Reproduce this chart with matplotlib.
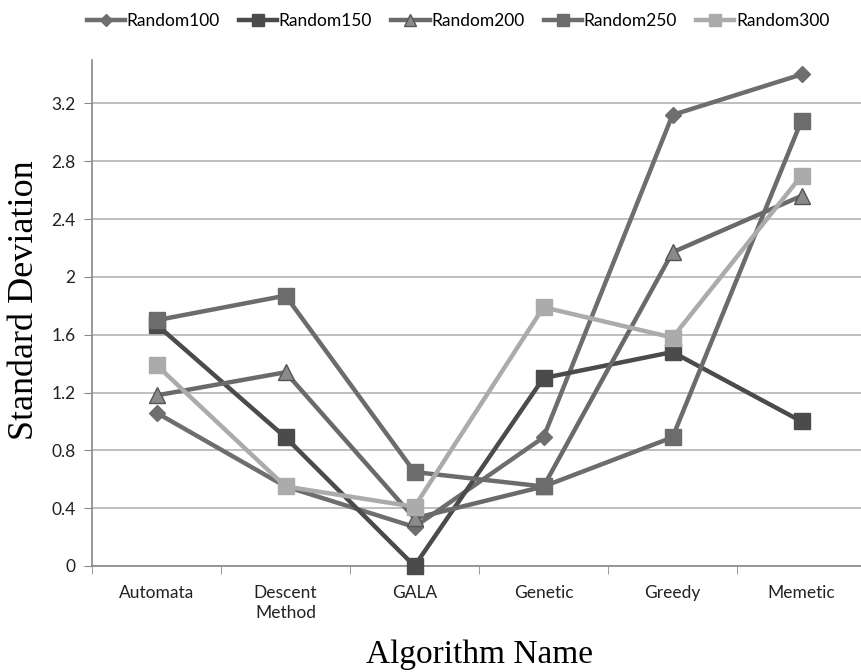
import matplotlib.pyplot as plt
import numpy as np

algorithms = ["Automata", "Descent\nMethod", "GALA", "Genetic", "Greedy", "Memetic"]
random100 = [1.06, 0.55, 0.27, 0.89, 3.12, 3.40]
random150 = [1.67, 0.89, 0.00, 1.30, 1.48, 1.00]
random200 = [1.18, 1.34, 0.33, 0.55, 2.17, 2.56]
random250 = [1.70, 1.87, 0.65, 0.55, 0.89, 3.08]
random300 = [1.39, 0.55, 0.41, 1.79, 1.58, 2.70]
y_ticks = [0, 0.4, 0.8, 1.2, 1.6, 2, 2.4, 2.8, 3.2]

series = [
    ("Random100", random100, "#6e6e6e", "D", 8, "#6e6e6e"),
    ("Random150", random150, "#4b4b4b", "s", 11, "#4b4b4b"),
    ("Random200", random200, "#6a6a6a", "^", 11, "#555555"),
    ("Random250", random250, "#6c6c6c", "s", 12, "#6c6c6c"),
    ("Random300", random300, "#ababab", "s", 11, "#ababab"),
]

fig = plt.figure(figsize=(8.61, 6.72), dpi=100)
ax = fig.add_axes([92 / 861, (672 - 566) / 672, (866 - 92) / 861, (566 - 60) / 672])

x = np.arange(len(algorithms))
for name, values, color, marker, size, edge in series:
    face = "#8a8a8a" if marker == "^" else color
    ax.plot(x, values, color=color, lw=3.2, marker=marker, markersize=size,
            markerfacecolor=face, markeredgecolor=edge, markeredgewidth=1,
            label=name, clip_on=False, zorder=3)

ax.set_xlim(-0.5, len(algorithms) - 0.5)
ax.set_ylim(0, 3.5)
ax.set_yticks(y_ticks)
ax.set_yticklabels([f"{t:g}" for t in y_ticks], fontsize=12.5, family="Lato", color="#222222")
ax.set_xticks(x)
ax.set_xticklabels(algorithms, fontsize=12.5, family="Lato", color="#222222", linespacing=1.3)
ax.set_xticks(np.arange(-0.5, len(algorithms), 1), minor=True)
ax.tick_params(axis="x", which="major", length=0, pad=14)
ax.tick_params(axis="x", which="minor", length=6, color="#888888", direction="out")
ax.tick_params(axis="y", length=6, color="#888888", direction="out", pad=6)
ax.grid(axis="y", color="#b4b4b4", lw=1.2, zorder=0)
for side in ("top", "right"):
    ax.spines[side].set_visible(False)
for side in ("left", "bottom"):
    ax.spines[side].set_color("#888888")
    ax.spines[side].set_linewidth(1.2)

ax.set_ylabel("Standard Deviation", family="Liberation Serif", fontsize=26, va="center")
ax.yaxis.set_label_coords(-0.087, 0.526)
ax.set_xlabel("Algorithm Name", family="Liberation Serif", fontsize=24, va="center")
ax.xaxis.set_label_coords(0.5, -0.176)

fig.legend(*ax.get_legend_handles_labels(), loc="center", bbox_to_anchor=(458 / 861, 1 - 21 / 672),
           ncol=5, frameon=False, prop={"family": "Lato", "size": 12.5}, handlelength=2.2,
           handletextpad=0.1, columnspacing=1.1, markerscale=0.75)

fig.savefig("out.png", dpi=100)
